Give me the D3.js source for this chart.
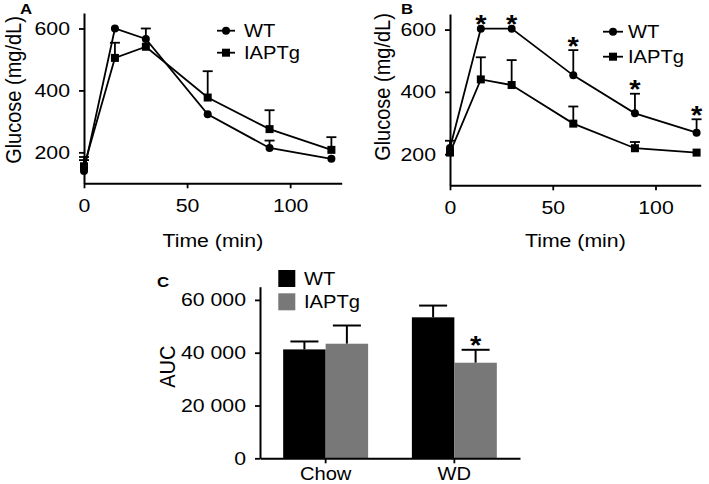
<!DOCTYPE html>
<html>
<head>
<meta charset="utf-8">
<script src="https://cdn.jsdelivr.net/npm/d3@7"></script>
<style>
  html, body { margin: 0; padding: 0; background: #fff; }
  svg { display: block; }
</style>
</head>
<body>
<svg id="chart" width="709" height="484"></svg>
<script>
// ---------- DATA ----------
const times = [0, 15, 30, 60, 90, 120];
const timeTicks = [0, 50, 100];
const glucoseTicks = [200, 400, 600];

// Panel A (chow)
const aWT = [140, 600, 566, 323, 214, 179];
const aWTSem = [35, 0, 34, 0, 24, 0];
const aIAP = [155, 505, 541, 377, 275, 208];
const aIAPSem = [30, 49, 0, 85, 61, 41];

// Panel B (WD)
const bWT = [220, 603, 603, 453, 331, 269];
const bWTSem = [23, 0, 0, 81, 63, 43];
const bIAP = [205, 440, 422, 298, 219, 205];
const bIAPSem = [0, 71, 80, 55, 20, 0];
const bSig = [false, true, true, true, true, true];

// Panel C (AUC)
const diets = ["Chow", "WD"];
const aucWT = [41250, 53400];
const aucWTSem = [3000, 4450];
const aucIAP = [43400, 36200];
const aucIAPSem = [6900, 4900];
const aucSig = [false, true];
const aucTicks = [0, 20000, 40000, 60000];

const seriesNames = ["WT", "IAPTg"];

// ---------- STYLE ----------
const FONT = "'Liberation Sans', Arial, Helvetica, sans-serif";
const SX = 1.12;           // horizontal stretch of the reference
const GRAY = "#787878";

const svg = d3.select("#chart");
svg.append("rect").attr("width", 709).attr("height", 484).attr("fill", "#fff");

function txt(g, x, y, s, size, anchor, weight) {
  return g.append("text")
    .attr("transform", `translate(${x},${y}) scale(${SX},1)`)
    .attr("text-anchor", anchor || "start")
    .attr("font-family", FONT)
    .attr("font-size", size)
    .attr("font-weight", weight || "normal")
    .attr("fill", "#000")
    .text(s);
}
function vtxt(g, x, y, s, size) {
  return g.append("text")
    .attr("transform", `translate(${x},${y}) rotate(-90) scale(1,${SX})`)
    .attr("text-anchor", "middle")
    .attr("font-family", FONT)
    .attr("font-size", size)
    .attr("fill", "#000")
    .text(s);
}
function styleAxis(g, size) {
  g.attr("font-family", FONT).attr("font-size", size || 19);
  g.select(".domain").attr("stroke", "#000").attr("stroke-width", 2);
  g.selectAll(".tick line").attr("stroke", "#000").attr("stroke-width", 1.8);
  g.selectAll(".tick text").attr("fill", "#000").each(function () {
    const t = d3.select(this);
    const x = +t.attr("x") || 0, y = +t.attr("y") || 0;
    t.attr("x", 0).attr("y", 0).attr("transform", `translate(${x},${y}) scale(${SX},1)`);
  });
}

// ---------- LINE PANELS ----------
function linePanel(opt) {
  const g = svg.append("g");
  const x = d3.scaleLinear().domain(opt.xDomain).range(opt.xRange);
  const y = d3.scaleLinear().domain([100, 650]).range(opt.yRange);

  g.append("g").attr("transform", `translate(0,${opt.yRange[0]})`)
    .call(d3.axisBottom(x).tickValues(timeTicks).tickSize(5).tickPadding(10).tickSizeOuter(0))
    .call(styleAxis);
  g.append("g").attr("transform", `translate(${opt.xRange[0]},0)`)
    .call(d3.axisLeft(y).tickValues(glucoseTicks).tickSize(5).tickPadding(9).tickSizeOuter(0))
    .call(styleAxis);

  const line = d3.line().x((d, i) => x(times[i])).y(d => y(d));
  const series = [
    { v: opt.wt, sem: opt.wtSem, shape: "circle" },
    { v: opt.iap, sem: opt.iapSem, shape: "square" }
  ];
  series.forEach(s => {
    // error bars (upper only)
    s.v.forEach((v, i) => {
      if (!s.sem[i]) return;
      const cx = x(times[i]), y0 = y(v), y1 = y(v + s.sem[i]);
      g.append("line").attr("x1", cx).attr("x2", cx).attr("y1", y0).attr("y2", y1)
        .attr("stroke", "#000").attr("stroke-width", 1.8);
      g.append("line").attr("x1", cx - 5).attr("x2", cx + 5).attr("y1", y1).attr("y2", y1)
        .attr("stroke", "#000").attr("stroke-width", 1.8);
    });
    g.append("path").datum(s.v).attr("d", line)
      .attr("fill", "none").attr("stroke", "#000").attr("stroke-width", 1.8);
  });
  series.forEach(s => {
    s.v.forEach((v, i) => {
      const cx = x(times[i]), cy = y(v);
      if (s.shape === "circle") {
        g.append("circle").attr("cx", cx).attr("cy", cy).attr("r", 4).attr("fill", "#000");
      } else {
        g.append("rect").attr("x", cx - 4).attr("y", cy - 4).attr("width", 8).attr("height", 8).attr("fill", "#000");
      }
    });
  });
  if (opt.sig) {
    opt.sig.forEach((s, i) => {
      if (!s) return;
      const top = y(opt.wt[i] + opt.wtSem[i]);
      txt(g, x(times[i]), top + 4.5, "*", 26, "middle", "bold");
    });
  }

  // axis titles
  txt(g, (opt.xRange[0] + opt.xRange[1]) / 2, 247, "Time (min)", 19, "middle");
  vtxt(g, opt.yTitleX, opt.yTitleY, "Glucose (mg/dL)", 20);

  // legend
  const L = opt.legend;
  [0, 1].forEach(k => {
    const ly = L.y[k];
    g.append("line").attr("x1", L.x0).attr("x2", L.x1).attr("y1", ly).attr("y2", ly)
      .attr("stroke", "#000").attr("stroke-width", 1.8);
    const mx = (L.x0 + L.x1) / 2;
    if (k === 0) g.append("circle").attr("cx", mx).attr("cy", ly).attr("r", 4).attr("fill", "#000");
    else g.append("rect").attr("x", mx - 4).attr("y", ly - 4).attr("width", 8).attr("height", 8).attr("fill", "#000");
    txt(g, L.tx, ly + 6.5, seriesNames[k], 18, "start");
  });

  txt(g, opt.label.x, opt.label.y, opt.label.t, 15, "start", "bold");
}

linePanel({
  xDomain: [0, 125], xRange: [84, 341.7], yRange: [183.3, 13],
  wt: aWT, wtSem: aWTSem, iap: aIAP, iapSem: aIAPSem,
  yTitleX: 20.5, yTitleY: 90,
  legend: { x0: 217, x1: 235, tx: 244, y: [30.7, 52.7] },
  label: { x: 20, y: 14, t: "A" }
});
linePanel({
  xDomain: [0, 122], xRange: [450, 700.7], yRange: [185.3, 14],
  wt: bWT, wtSem: bWTSem, iap: bIAP, iapSem: bIAPSem, sig: bSig,
  yTitleX: 389.5, yTitleY: 87,
  legend: { x0: 603, x1: 623, tx: 628, y: [31.7, 56.7] },
  label: { x: 401, y: 13.5, t: "B" }
});

// ---------- BAR PANEL ----------
(function () {
  const g = svg.append("g");
  const x0 = 260, x1 = 520, yb = 458.3, yt = 286.7;
  const x = d3.scaleBand().domain(diets).range([x0, x1]).paddingInner(0.34).paddingOuter(0.18);
  const xs = d3.scaleBand().domain(seriesNames).range([0, x.bandwidth()]);
  const y = d3.scaleLinear().domain([0, 65000]).range([yb, yt]);
  const fmt = d => d === 0 ? "0" : d3.format(",")(d).replace(/,/g, " ");

  const groups = [
    { v: aucWT, sem: aucWTSem, color: "#000", name: "WT" },
    { v: aucIAP, sem: aucIAPSem, color: GRAY, name: "IAPTg" }
  ];
  groups.forEach((s, k) => {
    diets.forEach((dName, i) => {
      const bx = x(dName) + xs(s.name), bw = xs.bandwidth();
      const cx = bx + bw / 2;
      const y1 = y(s.v[i] + s.sem[i]);
      g.append("line").attr("x1", cx).attr("x2", cx).attr("y1", y(s.v[i])).attr("y2", y1)
        .attr("stroke", "#000").attr("stroke-width", 2);
      g.append("line").attr("x1", cx - 14).attr("x2", cx + 14).attr("y1", y1).attr("y2", y1)
        .attr("stroke", "#000").attr("stroke-width", 2);
      g.append("rect").attr("x", bx).attr("y", y(s.v[i])).attr("width", bw)
        .attr("height", yb - y(s.v[i])).attr("fill", s.color);
      if (k === 1 && aucSig[i]) txt(g, cx, y1 + 4, "*", 26, "middle", "bold");
    });
  });

  g.append("g").attr("transform", `translate(0,${yb})`)
    .call(d3.axisBottom(x).tickSize(5).tickPadding(4).tickSizeOuter(0))
    .call(styleAxis, 18);
  g.append("g").attr("transform", `translate(${x0},0)`)
    .call(d3.axisLeft(y).tickValues(aucTicks).tickFormat(fmt).tickSize(5).tickPadding(9).tickSizeOuter(0))
    .call(styleAxis);

  vtxt(g, 175, 366.7, "AUC", 20);

  [0, 1].forEach(k => {
    const ry = [270, 293.3][k];
    g.append("rect").attr("x", 278.3).attr("y", ry).attr("width", 17).attr("height", 17)
      .attr("fill", groups[k].color);
    txt(g, 304, ry + 15, seriesNames[k], 18, "start");
  });

  txt(g, 157, 287, "C", 15, "start", "bold");
})();
</script>
</body>
</html>
